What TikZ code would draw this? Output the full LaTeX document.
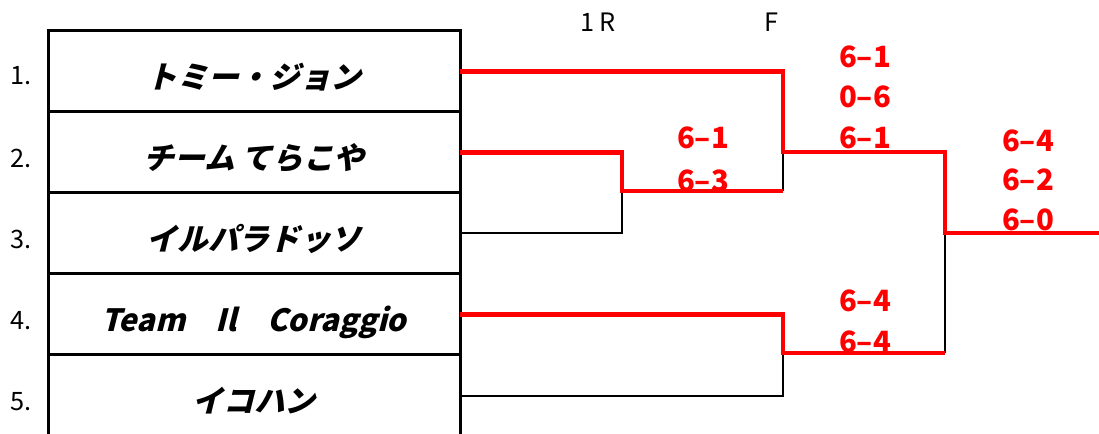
\documentclass[tikz,border=0pt]{standalone}
\usepackage{fontspec}
\newfontfamily\gothic{Noto Sans CJK JP}
\newfontfamily\gothicit[FakeSlant=0.25]{Noto Sans CJK JP}
\definecolor{winred}{RGB}{255,0,0}

\begin{document}
\begin{tikzpicture}[x=0.75pt,y=0.75pt,yscale=-1,xscale=1,
	team/.style={draw, line width=2.25pt, minimum width=309pt, minimum height=60.75pt, outer sep=0pt, inner sep=0pt, text height=25pt, text depth=0pt, font=\gothicit\bfseries\fontsize{23}{23}\selectfont},
	num/.style={inner sep=0.75pt, font=\gothic\fontsize{19}{19}\selectfont},
	head/.style={inner sep=0.75pt, font=\gothic\fontsize{19}{19}\selectfont},
	score/.style={inner sep=0.75pt, text=winred, font=\gothic\bfseries\fontsize{22}{22}\selectfont},
	lose/.style={line width=1.5pt},
	win/.style={line width=3.5pt, draw=winred, line join=miter}]
		\useasboundingbox (0,0) rectangle (1099,434);
		
		%Shape: Team boxes
		\node [team] (t1) at (254,71.5) {トミー・ジョン};
		\node [team] (t2) at (254,152.5) {チーム てらこや};
		\node [team] (t3) at (254,233.5) {イルパラドッソ};
		\node [team] (t4) at (254,314.5) {Team　Il　Coraggio};
		\node [team] (t5) at (254,395.5) {イコハン};
		
		% Text Node
		\node [num] (n1) at (21,76) {1.};
		\node [num] (n2) at (21,158) {2.};
		\node [num] (n3) at (21,239) {3.};
		\node [num] (n4) at (21,321) {4.};
		\node [num] (n5) at (21,402) {5.};
		% Text Node
		\node [head] (h1) at (598,22) {1\,R};
		\node [head] (h2) at (771,22) {F};
		
		% bracket corners
		\coordinate (r1) at (622,191);
		\coordinate (f1) at (783,152);
		\coordinate (f1b) at (783,191);
		\coordinate (f2) at (783,353);
		\coordinate (w) at (945,233);
		\coordinate (w2) at (945,353);
		\coordinate (champ) at (1099,233);
		
		%Straight Lines (losers)
		\draw [lose] (t3.east) -| (r1);
		\draw [lose] (f1) -- (f1b);
		\draw [lose] (t5.east) -| (f2);
		\draw [lose] (w) -- (w2);
		%Straight Lines (winners)
		\draw [win] (t2.east) -| (r1) -- (f1b);
		\draw [win] (t1.east) -| (f1) -| (w) -- (champ);
		\draw [win] (t4.east) -| (f2) -- (w2);
		
		% Text Node
		\node [score] (s1a) at (703,138) {6–1};
		\node [score] (s1b) at (703,181) {6–3};
		\node [score] (s2a) at (865,57) {6–1};
		\node [score] (s2b) at (865,97) {0–6};
		\node [score] (s2c) at (865,138) {6–1};
		\node [score] (s3a) at (865,301) {6–4};
		\node [score] (s3b) at (865,342) {6–4};
		\node [score] (s4a) at (1028,141) {6–4};
		\node [score] (s4b) at (1028,180) {6–2};
		\node [score] (s4c) at (1028,220) {6–0};
		
		\end{tikzpicture}
\end{document}
